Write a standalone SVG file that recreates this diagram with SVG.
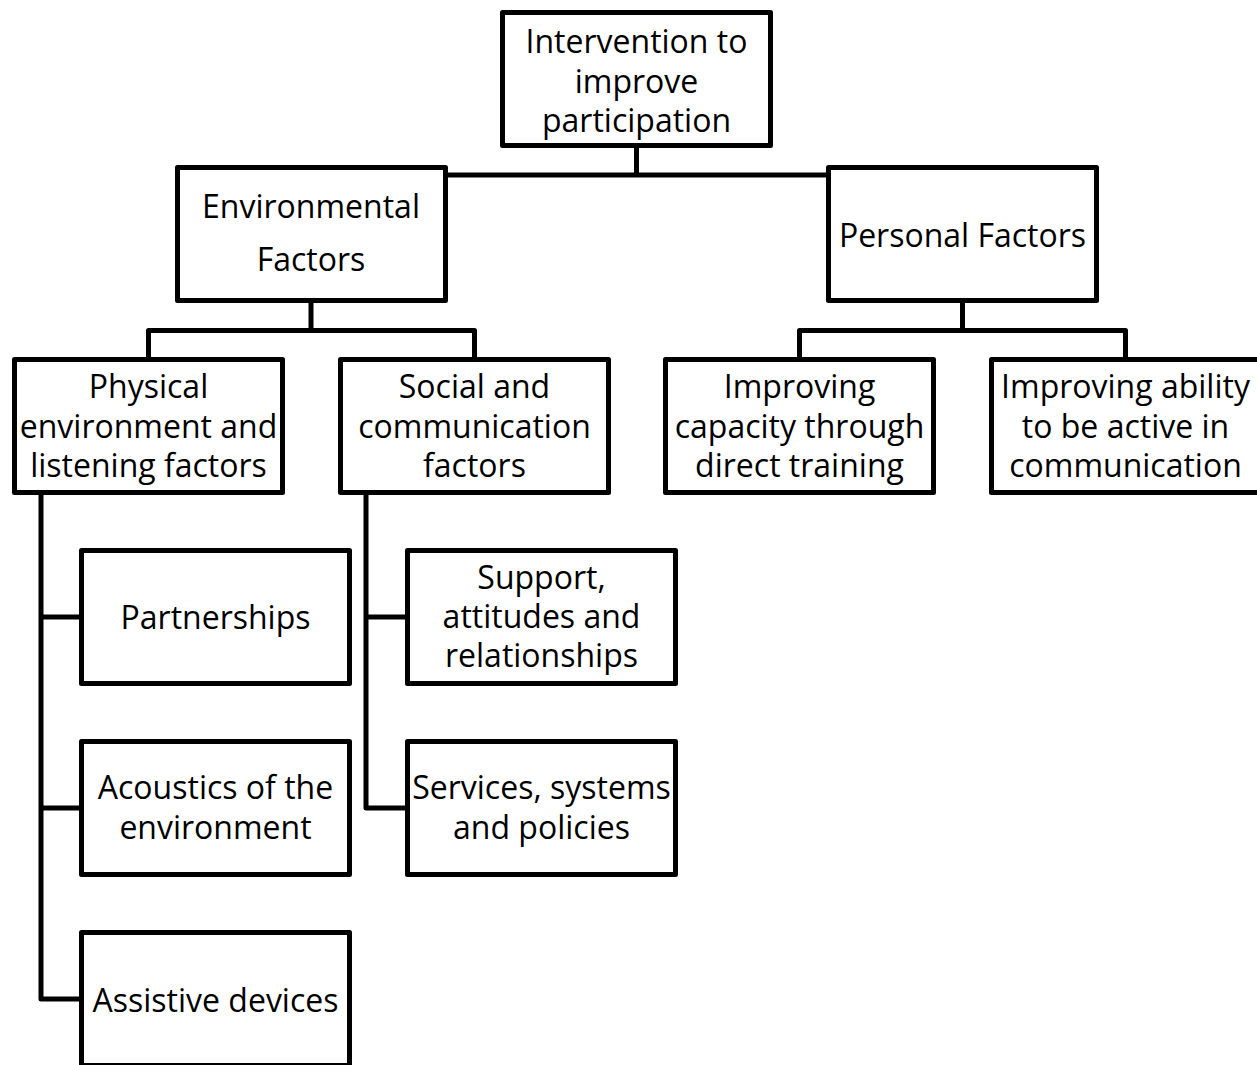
<svg xmlns="http://www.w3.org/2000/svg" width="1257" height="1065" viewBox="0 0 1257 1065">
<style>
.box{fill:#fff;stroke:#000;stroke-width:5;stroke-linejoin:round}
.c{fill:none;stroke:#000;stroke-width:5;stroke-linejoin:round}
text{font-family:"Open Sans","Liberation Sans",sans-serif;font-size:32px;fill:#000;text-anchor:middle}
</style>
<rect width="1257" height="1065" fill="#fff"/>
<g id="connectors">
<path class="c" d="M636.5 146V175M445 175H828"/>
<path class="c" d="M311 301V330.5M148.5 357V330.5H474.5V357"/>
<path class="c" d="M962.5 301V330.5M799.5 357V330.5H1125.5V357"/>
<path class="c" d="M41 493V999H81M41 617H81M41 808H81"/>
<path class="c" d="M366 493V808H407M366 617H407"/>
</g>
<g id="n-top"><rect class="box" x="502.5" y="12.5" width="268" height="133"/>
<text x="636.5" y="53">Intervention to</text><text x="636.5" y="93">improve</text><text x="636.5" y="132">participation</text></g>
<g id="n-env"><rect class="box" x="177.5" y="167.5" width="268" height="133"/>
<text x="311" y="218">Environmental</text><text x="311" y="271">Factors</text></g>
<g id="n-personal"><rect class="box" x="828.5" y="167.5" width="268" height="133"/>
<text x="962.5" y="247">Personal Factors</text></g>
<g id="n-physical"><rect class="box" x="14.5" y="359.5" width="268" height="133"/>
<text x="148.5" y="398">Physical</text><text x="148.5" y="438">environment and</text><text x="148.5" y="477">listening factors</text></g>
<g id="n-social"><rect class="box" x="340.5" y="359.5" width="268" height="133"/>
<text x="474.5" y="398">Social and</text><text x="474.5" y="438">communication</text><text x="474.5" y="477">factors</text></g>
<g id="n-capacity"><rect class="box" x="665.5" y="359.5" width="268" height="133"/>
<text x="799.5" y="398">Improving</text><text x="799.5" y="438">capacity through</text><text x="799.5" y="477">direct training</text></g>
<g id="n-ability"><rect class="box" x="991.5" y="359.5" width="268" height="133"/>
<text x="1125.5" y="398">Improving ability</text><text x="1125.5" y="438">to be active in</text><text x="1125.5" y="477">communication</text></g>
<g id="n-partnerships"><rect class="box" x="81.5" y="550.5" width="268" height="133"/>
<text x="215.5" y="629">Partnerships</text></g>
<g id="n-acoustics"><rect class="box" x="81.5" y="741.5" width="268" height="133"/>
<text x="215.5" y="799">Acoustics of the</text><text x="215.5" y="839">environment</text></g>
<g id="n-assistive"><rect class="box" x="81.5" y="932.5" width="268" height="133"/>
<text x="215.5" y="1012">Assistive devices</text></g>
<g id="n-support"><rect class="box" x="407.5" y="550.5" width="268" height="133"/>
<text x="541.5" y="589">Support,</text><text x="541.5" y="628">attitudes and</text><text x="541.5" y="667">relationships</text></g>
<g id="n-services"><rect class="box" x="407.5" y="741.5" width="268" height="133"/>
<text x="541.5" y="799">Services, systems</text><text x="541.5" y="839">and policies</text></g>
</svg>
